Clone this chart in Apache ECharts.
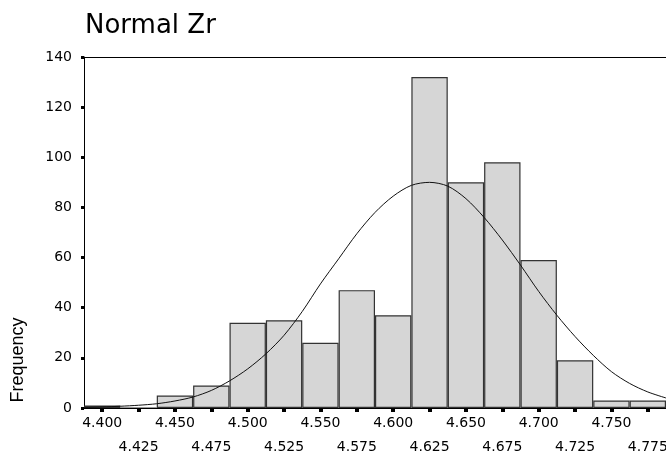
<!DOCTYPE html>
<html>
<head>
<meta charset="utf-8">
<title>Normal Zr</title>
<script src="https://cdn.jsdelivr.net/npm/echarts@6/dist/echarts.min.js"></script>
<style>
  html, body { margin: 0; padding: 0; background: #fff; }
  #chart { width: 666px; height: 454px; }
</style>
</head>
<body>
<div id="chart"></div>
<script>
// histogram bins (bin centres) and counts
const binLabels = ['4.400', '4.425', '4.450', '4.475', '4.500', '4.525', '4.550', '4.575',
  '4.600', '4.625', '4.650', '4.675', '4.700', '4.725', '4.750', '4.775']
const counts = [1, 0, 5, 9, 34, 35, 26, 47, 37, 132, 90, 98, 59, 19, 3, 3]

// fitted normal curve
const curveX = [4.3875, 4.4, 4.4125, 4.425, 4.4375, 4.45, 4.4625, 4.475, 4.4875, 4.5,
  4.5125, 4.525, 4.5375, 4.55, 4.5625, 4.575, 4.5875, 4.6, 4.6125, 4.625, 4.6375,
  4.65, 4.6625, 4.675, 4.6875, 4.7, 4.7125, 4.725, 4.7375, 4.75, 4.7625, 4.775, 4.7875]
const curveY = [0.2, 0.4, 0.7, 1.1, 1.7, 2.8, 4.4, 7.0, 10.8, 15.6,
  21.6, 29, 38.5, 49.5, 59.5, 69.5, 78, 84.5, 88.8, 90, 88.5,
  83.5, 76, 67, 57, 46.5, 37, 28.5, 21, 14.5, 9.8, 6.4, 4]

const yTicks = [0, 20, 40, 60, 80, 100, 120, 140]

const font = 'DejaVu Sans'

const chart = echarts.init(document.getElementById('chart'))

const option = {
  backgroundColor: '#fff',
  animation: false,
  title: {
    text: 'Normal Zr',
    left: 80,
    top: 8,
    textStyle: { fontFamily: font, fontSize: 26, fontWeight: 'normal', color: '#000' }
  },
  grid: {
    left: 84,
    right: 0,
    top: 57,
    bottom: 46,
    outerBoundsMode: 'none'
  },
  xAxis: [
    {
      type: 'category',
      data: binLabels,
      boundaryGap: true,
      axisLine: { lineStyle: { color: '#000', width: 1 } },
      axisTick: {
        show: true,
        interval: 0,
        alignWithLabel: true,
        length: 4,
        lineStyle: { color: '#000', width: 4 }
      },
      axisLabel: {
        interval: 0,
        margin: 3,
        fontFamily: font,
        fontSize: 14,
        lineHeight: 24,
        color: '#000',
        formatter: (v, i) => (i % 2 === 1 ? '\n' + v : v)
      },
      splitLine: { show: false },
      z: 5
    },
    {
      // hidden numeric axis for the curve, also draws the top frame line
      type: 'value',
      position: 'top',
      min: 4.3875,
      max: 4.7875,
      axisLine: { show: true, onZero: false, lineStyle: { color: '#000', width: 1 } },
      axisTick: { show: false },
      axisLabel: { show: false },
      splitLine: { show: false }
    }
  ],
  yAxis: {
    type: 'value',
    min: 0,
    max: 140,
    interval: 20,
    axisLine: { show: true, lineStyle: { color: '#000', width: 1 } },
    axisTick: { show: true, length: 3, lineStyle: { color: '#000', width: 3 } },
    axisLabel: {
      margin: 12,
      fontFamily: font,
      fontSize: 14,
      color: '#000',
      customValues: yTicks
    },
    splitLine: { show: false }
  },
  graphic: [
    {
      type: 'text',
      x: 18,
      y: 360,
      rotation: Math.PI / 2,
      style: {
        text: 'Frequency',
        font: '18px "Liberation Sans"',
        fill: '#000',
        align: 'center',
        verticalAlign: 'middle'
      }
    }
  ],
  series: [
    {
      type: 'bar',
      data: counts,
      barCategoryGap: '0%',
      itemStyle: { color: '#d6d6d6', borderColor: '#333', borderWidth: 1.2 }
    },
    {
      type: 'line',
      xAxisIndex: 1,
      data: curveX.map((x, i) => [x, curveY[i]]),
      smooth: 0.3,
      showSymbol: false,
      lineStyle: { color: '#111', width: 1 },
      z: 3
    }
  ]
}

chart.setOption(option)
</script>
</body>
</html>
